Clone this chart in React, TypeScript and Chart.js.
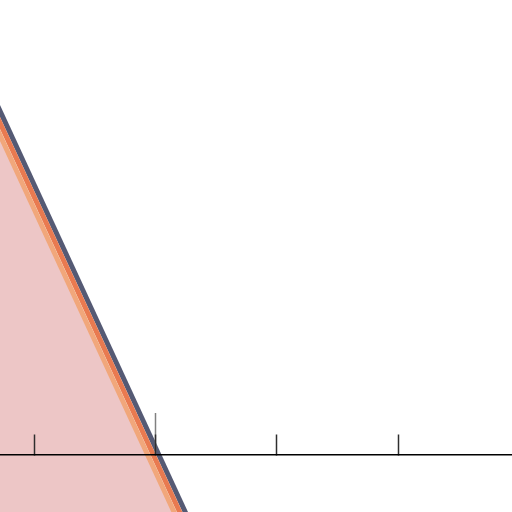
import React, { useEffect, useRef } from "react";
import { Chart, registerables } from "chart.js";

Chart.register(...registerables);

const xValues = [0.5, 2.5];
const slateValues = [3.3, -1.03];
const orangeValues = [3.2, -1.13];
const lightValues = [3.1, -1.23];
const xTicks = [1, 2, 3, 4];
const markTicks = [2];
const xRange = [0.711, 4.942];
const yRange = [-0.471, 3.76];

const toPoints = (ys: number[]) => xValues.map((x, i) => ({ x, y: ys[i] }));

export default function App() {
  const ref = useRef<HTMLCanvasElement | null>(null);
  useEffect(() => {
    if (!ref.current) return;
    const chart = new Chart(ref.current, {
      type: "line",
      data: {
        datasets: [
          {
            label: "C",
            data: toPoints(lightValues),
            borderColor: "#f1a77b",
            backgroundColor: "rgba(212,118,118,0.42)",
            borderWidth: 5,
            fill: "start",
            pointRadius: 0,
            tension: 0,
          },
          {
            label: "B",
            data: toPoints(orangeValues),
            borderColor: "#e97a50",
            borderWidth: 5,
            fill: false,
            pointRadius: 0,
            tension: 0,
          },
          {
            label: "A",
            data: toPoints(slateValues),
            borderColor: "#555a74",
            borderWidth: 5,
            fill: false,
            pointRadius: 0,
            tension: 0,
          },
        ],
      },
      options: {
        responsive: false,
        animation: false,
        layout: { padding: 0 },
        plugins: { legend: { display: false }, tooltip: { enabled: false } },
        scales: {
          y: {
            type: "linear",
            min: yRange[0],
            max: yRange[1],
            display: false,
          },
          x2: {
            type: "linear",
            axis: "x",
            position: { y: 0 },
            min: xRange[0],
            max: xRange[1],
            afterBuildTicks: (s: any) => {
              s.ticks = markTicks.map((v) => ({ value: v }));
            },
            ticks: { display: false },
            grid: {
              display: true,
              drawOnChartArea: false,
              drawTicks: true,
              tickLength: -42,
              tickColor: "#808080",
              tickWidth: 1.5,
              z: 1,
            },
            border: { display: false },
          },
          x: {
            type: "linear",
            position: { y: 0 },
            min: xRange[0],
            max: xRange[1],
            afterBuildTicks: (s: any) => {
              s.ticks = xTicks.map((v) => ({ value: v }));
            },
            ticks: { display: false },
            grid: {
              display: true,
              drawOnChartArea: false,
              drawTicks: true,
              tickLength: -21,
              tickColor: "#2e2e2e",
              tickWidth: 1.5,
              z: 2,
            },
            border: { display: true, color: "#000000", width: 1.5, z: 3 },
          },
        },
      },
    });
    return () => chart.destroy();
  }, []);
  return (
    <div style={{ position: "absolute", left: 0, top: 0, width: 512, height: 512 }}>
      <canvas ref={ref} width={512} height={512} style={{ display: "block" }} />
    </div>
  );
}
